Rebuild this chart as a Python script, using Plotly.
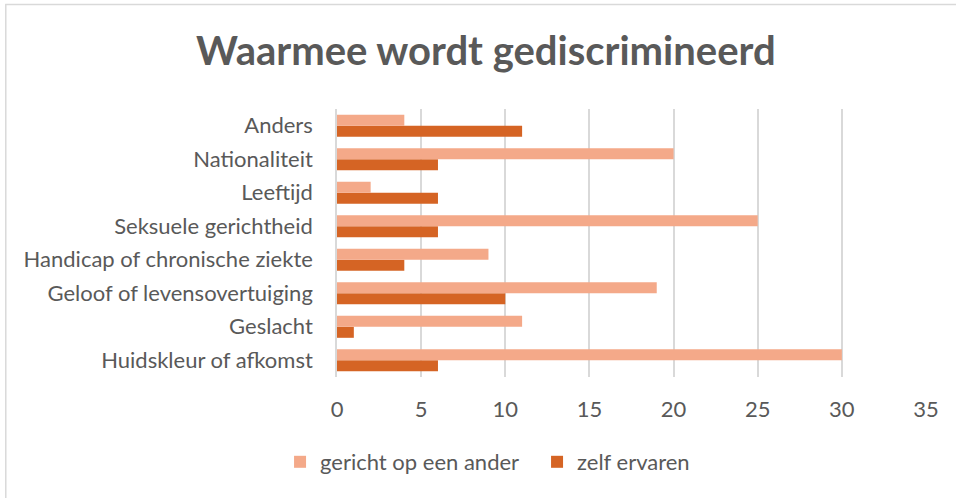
import plotly.graph_objects as go

categories = ["Huidskleur of afkomst", "Geslacht", "Geloof of levensovertuiging",
              "Handicap of chronische ziekte", "Seksuele gerichtheid", "Leeftijd",
              "Nationaliteit", "Anders"]
gericht_op_een_ander = [30, 11, 19, 9, 25, 2, 20, 4]
zelf_ervaren = [6, 1, 10, 4, 6, 6, 6, 11]
x_ticks = [0, 5, 10, 15, 20, 25, 30, 35]

W, H = 956, 498
L, R, T, B = 337, 956 - 926.5, 109, 498 - 377

font_family = "Lato, 'Open Sans', sans-serif"
gray = "#595959"

fig = go.Figure()
fig.add_trace(go.Bar(
    y=categories, x=zelf_ervaren, name="zelf ervaren", orientation="h",
    marker=dict(color="#D56424", line=dict(width=0)), legendrank=2,
))
fig.add_trace(go.Bar(
    y=categories, x=gericht_op_een_ander, name="gericht op een ander", orientation="h",
    marker=dict(color="#F4A989", line=dict(width=0)), legendrank=1,
))

pw = W - L - R
ph = H - T - B
def px2paper_x(px):
    return (px - L) / pw
def px2paper_y(py):
    return (H - B - py) / ph

# outer chart border (top and left visible)
fig.add_shape(type="line", xref="paper", yref="paper",
              x0=px2paper_x(5), x1=px2paper_x(W + 5), y0=px2paper_y(4.5), y1=px2paper_y(4.5),
              line=dict(color="#D9D9D9", width=1.5))
fig.add_shape(type="line", xref="paper", yref="paper",
              x0=px2paper_x(5.5), x1=px2paper_x(5.5), y0=px2paper_y(4), y1=px2paper_y(H + 5),
              line=dict(color="#D9D9D9", width=1.5))

fig.update_layout(
    width=W, height=H,
    margin=dict(l=L, r=R, t=T, b=B, pad=0),
    paper_bgcolor="white", plot_bgcolor="white",
    barmode="group", bargap=0.34, bargroupgap=0,
    title=dict(text="<b>Waarmee wordt gediscrimineerd</b>", x=(486 - L) / pw, xref="paper",
               xanchor="center", y=1 - 51 / H, yanchor="middle",
               font=dict(family=font_family, size=40, color=gray)),
    font=dict(family=font_family, size=22, color=gray),
    showlegend=True,
    legend=dict(orientation="h", x=px2paper_x(280), xanchor="left", y=px2paper_y(462), yanchor="middle",
                font=dict(size=22, color=gray), itemwidth=30, traceorder="normal",
                entrywidth=212, entrywidthmode="pixels",
                bgcolor="rgba(0,0,0,0)"),
    xaxis=dict(range=[0, 35], tickvals=x_ticks, showgrid=True, gridcolor="#D9D9D9", gridwidth=1.5,
               zeroline=False, showline=False, ticks="", tickfont=dict(size=22, color=gray),
               ticklabelstandoff=17),
    yaxis=dict(showgrid=False, zeroline=False, showline=True, linecolor="#D9D9D9", linewidth=1.5,
               ticks="", tickfont=dict(size=22, color=gray), ticklabelstandoff=18),
)

fig.write_html("out.html", config={"displayModeBar": False},
               post_script="document.body.style.margin='0';document.body.style.overflow='hidden';")
